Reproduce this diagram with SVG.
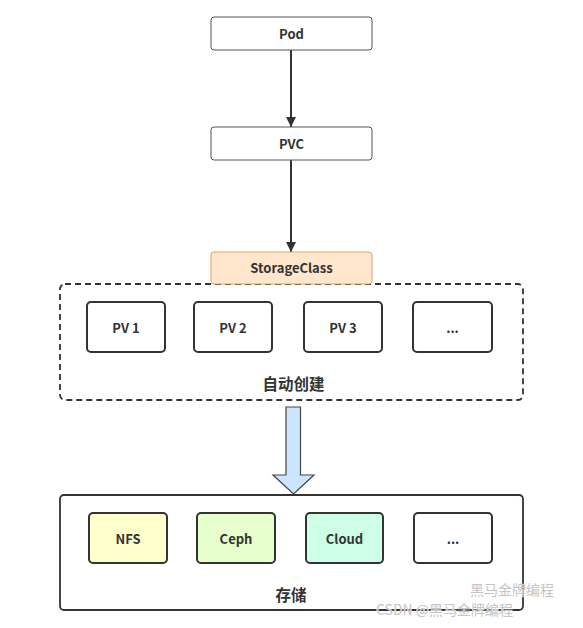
<svg xmlns="http://www.w3.org/2000/svg" width="583" height="628" viewBox="0 0 583 628">
<defs>
<marker id="ah" markerWidth="10" markerHeight="10" refX="10" refY="5" orient="auto" markerUnits="userSpaceOnUse" viewBox="0 0 10 10">
<path d="M0,0 L10,5 L0,10 Z" fill="#333"/>
</marker>
</defs>
<style>
text{font-family:"Noto Sans CJK SC","Noto Sans",sans-serif;font-size:13px;fill:#333;text-anchor:middle;dominant-baseline:central;font-weight:600}
.top{fill:#fff;stroke:#555;stroke-width:1}
.pv{stroke:#333;stroke-width:2}
.white{fill:#fff}
.nfs{fill:#ffffcc}
.ceph{fill:#e6ffcc}
.cloud{fill:#ccffe6}
.line{stroke:#333;stroke-width:2;fill:none}
.big{font-size:15.5px}
.wm{font-size:14px;fill:#c4c4c4;font-weight:400;text-anchor:start;stroke:#fff;stroke-width:0.6;paint-order:stroke}
</style>
<rect width="583" height="628" fill="#fff"/>
<g id="connectors">
<line class="line" x1="291" y1="50" x2="291" y2="127" marker-end="url(#ah)"/>
<line class="line" x1="291" y1="160" x2="291" y2="252" marker-end="url(#ah)"/>
<path d="M286,407 H300.5 V475 H314 L293.5,494 L273,475 H286 Z" fill="#cce5ff" stroke="#444" stroke-width="1.2"/>
</g>
<g id="pod"><rect class="top" x="211" y="17" width="161" height="33" rx="3"/><text x="291.5" y="33.5">Pod</text></g>
<g id="pvc"><rect class="top" x="211" y="127" width="161" height="33" rx="3"/><text x="291.5" y="143.5">PVC</text></g>
<g id="auto"><rect x="60" y="284" width="463" height="116" rx="5" fill="none" stroke="#333" stroke-width="1.8" stroke-dasharray="6,4"/><text class="big" x="293.5" y="383">自动创建</text></g>
<g id="storageclass"><rect x="211" y="252" width="161" height="32" rx="3" fill="#ffe6cc" stroke="#d9a860" stroke-width="1"/><text x="291.5" y="267">StorageClass</text></g>
<g id="pv1"><rect class="pv white" x="87" y="302" width="78" height="50" rx="4"/><text x="126" y="327" font-weight="400">PV 1</text></g>
<g id="pv2"><rect class="pv white" x="194" y="302" width="78" height="50" rx="4"/><text x="233" y="327" font-weight="400">PV 2</text></g>
<g id="pv3"><rect class="pv white" x="304" y="302" width="78" height="50" rx="4"/><text x="343" y="327" font-weight="400">PV 3</text></g>
<g id="pvmore"><rect class="pv white" x="413" y="302" width="79" height="50" rx="4"/><text x="452.5" y="327" font-weight="400">...</text></g>
<g id="storage"><rect x="60" y="495" width="463" height="115" rx="4" fill="none" stroke="#333" stroke-width="1.8"/><text class="big" x="291" y="594">存储</text></g>
<g id="nfs"><rect class="pv nfs" x="89" y="513" width="78" height="50" rx="4"/><text x="128" y="538">NFS</text></g>
<g id="ceph"><rect class="pv ceph" x="197" y="513" width="78" height="50" rx="4"/><text x="236" y="538">Ceph</text></g>
<g id="cloud"><rect class="pv cloud" x="306" y="513" width="77" height="50" rx="4"/><text x="344.5" y="538">Cloud</text></g>
<g id="storemore"><rect class="pv white" x="414" y="513" width="78" height="50" rx="4"/><text x="453" y="538">...</text></g>
<text class="wm" x="470" y="589">黑马金牌编程</text>
<text class="wm" x="376" y="609">CSDN @黑马金牌编程</text>
</svg>
